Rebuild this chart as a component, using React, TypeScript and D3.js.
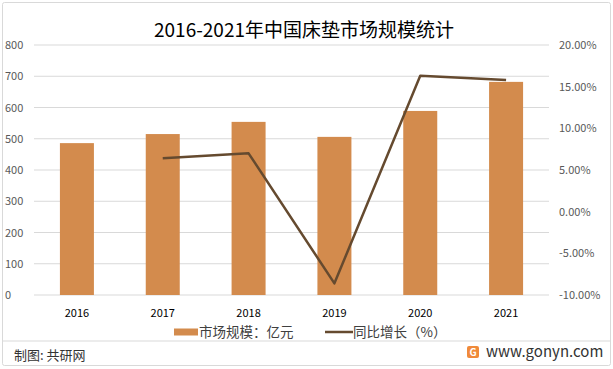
import React from "react";
import * as d3 from "d3";

const W = 613;
const H = 369;

const years = ["2016", "2017", "2018", "2019", "2020", "2021"];
const scale = [486, 515, 554, 506, 589, 682];
const growth = [null, 6.4, 7.0, -8.6, 16.3, 15.8];
const leftTicks = [0, 100, 200, 300, 400, 500, 600, 700, 800];
const rightTicks = [-10, -5, 0, 5, 10, 15, 20];

const barColor = "#D38B4D";
const lineColor = "#654a2f";
const font = "'Microsoft YaHei', 'Noto Sans CJK SC', sans-serif";

export default function App() {
  const band = d3.scaleBand<string>().domain(years).range([34, 549]);
  const y = d3.scaleLinear().domain([0, 800]).range([295, 45]);
  const y2 = d3.scaleLinear().domain([-10, 20]).range([295, 45]);

  const pts = years
    .map((yr, i) => ({ yr, v: growth[i] }))
    .filter(d => d.v !== null) as { yr: string; v: number }[];
  const line = d3.line<{ yr: string; v: number }>()
    .x(d => band(d.yr)! + band.bandwidth() / 2)
    .y(d => y2(d.v));

  return (
    <svg width={W} height={H} style={{ position: "absolute", left: 0, top: 0, background: "#fff" }} fontFamily={font}>
      <rect x={2.5} y={2.5} width={W - 5} height={H - 6} fill="#fff" stroke="#d9d9d9" rx={2} />
      <text x={304} y={37} textAnchor="middle" fontSize={19} fill="#000">2016-2021年中国床垫市场规模统计</text>

      {leftTicks.map(t => (
        <g key={t}>
          <line x1={34} x2={549} y1={y(t)} y2={y(t)} stroke="#d9d9d9" strokeWidth={1} />
          <text x={5} y={y(t) + 4} fontSize={11} fill="#595959">{t}</text>
        </g>
      ))}
      {rightTicks.map(t => (
        <text key={t} x={559} y={y2(t) + 4} fontSize={11} fill="#595959">{t.toFixed(2)}%</text>
      ))}

      {years.map((yr, i) => {
        const cx = band(yr)! + band.bandwidth() / 2;
        const bw = 34;
        return (
          <g key={yr}>
            <rect x={cx - bw / 2} y={y(scale[i])} width={bw} height={y(0) - y(scale[i])} fill={barColor} />
            <text x={cx} y={317} textAnchor="middle" fontSize={11} fill="#000">{yr}</text>
          </g>
        );
      })}

      <path d={line(pts)!} fill="none" stroke={lineColor} strokeWidth={2.5} strokeLinejoin="round" />

      <rect x={174} y={328.5} width={24} height={7} fill={barColor} />
      <text x={199} y={337} fontSize={13.5} fill="#404040">市场规模：亿元</text>
      <line x1={325} x2={353} y1={332} y2={332} stroke={lineColor} strokeWidth={2.5} />
      <text x={353} y={337} fontSize={13.5} fill="#404040">同比增长（%）</text>

      <line x1={3} x2={W - 3} y1={341} y2={341} stroke="#d9d9d9" />
      <text x={14} y={360} fontSize={13} fill="#333">制图: 共研网</text>
      <rect x={467} y={346} width={12} height={12} rx={2} fill="#f08a3a" />
      <text x={473} y={356} textAnchor="middle" fontSize={10} fontWeight="bold" fill="#fff">G</text>
      <text x={486} y={357} fontSize={15} fill="#333">www.gonyn.com</text>
    </svg>
  );
}
